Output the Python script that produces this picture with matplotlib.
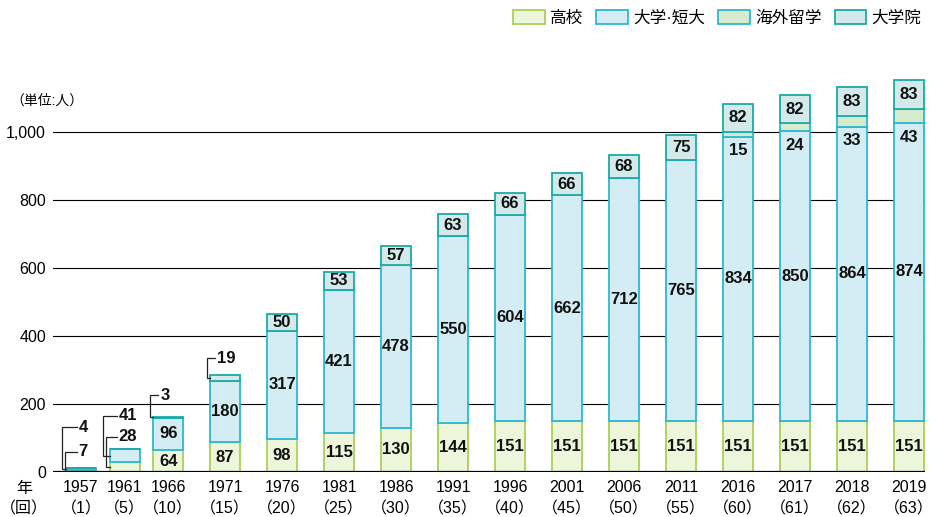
"""大学進学者数の推移 - 積み上げ棒グラフ"""
import matplotlib
matplotlib.use('Agg')
import matplotlib.pyplot as plt
import matplotlib.patches as mpatches
import numpy as np

plt.rcParams['font.family'] = ['Liberation Sans', 'Noto Sans CJK JP']
plt.rcParams['axes.unicode_minus'] = False

# データ
years = ['1957', '1961', '1966', '1971', '1976', '1981', '1986', '1991',
         '1996', '2001', '2006', '2011', '2016', '2017', '2018', '2019']
rounds = ['1', '5', '10', '15', '20', '25', '30', '35',
          '40', '45', '50', '55', '60', '61', '62', '63']
koukou = [7, 28, 64, 87, 98, 115, 130, 144, 151, 151, 151, 151, 151, 151, 151, 151]
daigaku = [4, 41, 96, 180, 317, 421, 478, 550, 604, 662, 712, 765, 834, 850, 864, 874]
kaigai = [0, 0, 0, 0, 0, 0, 0, 0, 0, 0, 0, 0, 15, 24, 33, 43]
daigakuin = [0, 0, 3, 19, 50, 53, 57, 63, 66, 66, 68, 75, 82, 82, 83, 83]

series_names = ['高校', '大学·短大', '海外留学', '大学院']
faces = ['#EDF5DA', '#D4EDF4', '#D6EBCB', '#D3E9EA']
edges = ['#A9D05B', '#2DB8D2', '#2DB8D2', '#1BAAA6']

# 間隔 (最初の3本は詰めて配置)
gaps = [0, 0.77, 0.76] + [1] * 13
xpos = np.cumsum(gaps)
W = 0.52

fig = plt.figure(figsize=(9.41, 5.17), dpi=100, facecolor='white')
ax = fig.add_axes([53 / 941, 45 / 517, 872 / 941, 398 / 517])
ax.set_xlim(-0.49, xpos[-1] + 0.28)
ax.set_ylim(0, 1170)

ax.set_yticks([0, 200, 400, 600, 800, 1000])
ax.set_yticklabels(['0', '200', '400', '600', '800', '1,000'], fontsize=11.5)
for yv in [200, 400, 600, 800, 1000]:
    ax.axhline(yv, color='black', lw=0.8, zorder=1)
ax.axhline(0, color='black', lw=1.6, zorder=4)
for s in ax.spines.values():
    s.set_visible(False)
ax.tick_params(axis='y', length=0, pad=5)
ax.tick_params(axis='x', length=0, pad=6)
ax.set_xticks(xpos)
ax.set_xticklabels([f'{y}\n（{r}）' for y, r in zip(years, rounds)],
                   fontsize=11.5, linespacing=1.45)

stack = [koukou, daigaku, kaigai, daigakuin]
bottom = np.zeros(len(years))
for vals, fc, ec in zip(stack, faces, edges):
    vals = np.array(vals)
    ax.bar(xpos, vals, W, bottom=bottom, facecolor=fc, edgecolor=ec,
           linewidth=1.3, zorder=2)
    bottom = bottom + vals

lab = dict(ha='center', va='center', fontsize=12, fontweight='bold',
           color='#111111', zorder=5)
k = np.array(koukou)
d = np.array(daigaku)
o = np.array(kaigai)
g = np.array(daigakuin)
for i in range(len(years)):
    if i >= 2:
        ax.text(xpos[i], k[i] / 2, str(k[i]), **lab)
        ax.text(xpos[i], k[i] + d[i] / 2, str(d[i]), **lab)
    if i >= 4:
        ax.text(xpos[i], k[i] + d[i] + o[i] + g[i] / 2, str(g[i]), **lab)
    if o[i] > 0:
        ax.annotate(str(o[i]), (xpos[i], k[i] + d[i]), xytext=(0, -10),
                    textcoords='offset points', **lab)

# 引き出し線 (index, 値, 区間の中心, テキストの高さ, 縦線のずれ)
callout_idx = [0, 0, 1, 1, 2, 3]
callout_val = ['4', '7', '41', '28', '3', '19']
callout_mid = [9, 3.5, 48, 14, 161.5, 276.5]
callout_ty = [132, 59, 165, 103, 226, 335]
callout_dx = [-0.08, -0.02, -0.13, -0.07, -0.05, -0.05]
callout_end = [0.19, 0.19, 0.12, 0.12, 0.09, 0.09]
for i, t, m, ty, dx, ex in zip(callout_idx, callout_val, callout_mid,
                               callout_ty, callout_dx, callout_end):
    xl = xpos[i] - W / 2
    ax.plot([xl, xl + dx, xl + dx, xl + ex], [m, m, ty, ty],
            color='#222222', lw=0.9, zorder=5, solid_joinstyle='miter')
    ax.text(xl + ex + 0.03, ty, t, ha='left', va='center', fontsize=12,
            fontweight='bold', color='#111111', zorder=5)

fig.text(10 / 941, 1 - 101 / 517, '（単位:人）', fontsize=10, va='center',
         ha='left')
fig.text(24 / 941, 1 - 481 / 517, '年\n（回）', fontsize=11.5, va='top',
         ha='center', linespacing=1.4)

handles = [mpatches.Patch(facecolor=fc, edgecolor=ec, linewidth=1.3, label=n)
           for n, fc, ec in zip(series_names, faces, edges)]
fig.legend(handles=handles, loc='upper right', bbox_to_anchor=(0.995, 1.01),
           ncol=4, frameon=False, fontsize=12, handlelength=1.9,
           handleheight=0.9, handletextpad=0.3, columnspacing=0.8)

fig.savefig('out.png', dpi=100, facecolor='white')
